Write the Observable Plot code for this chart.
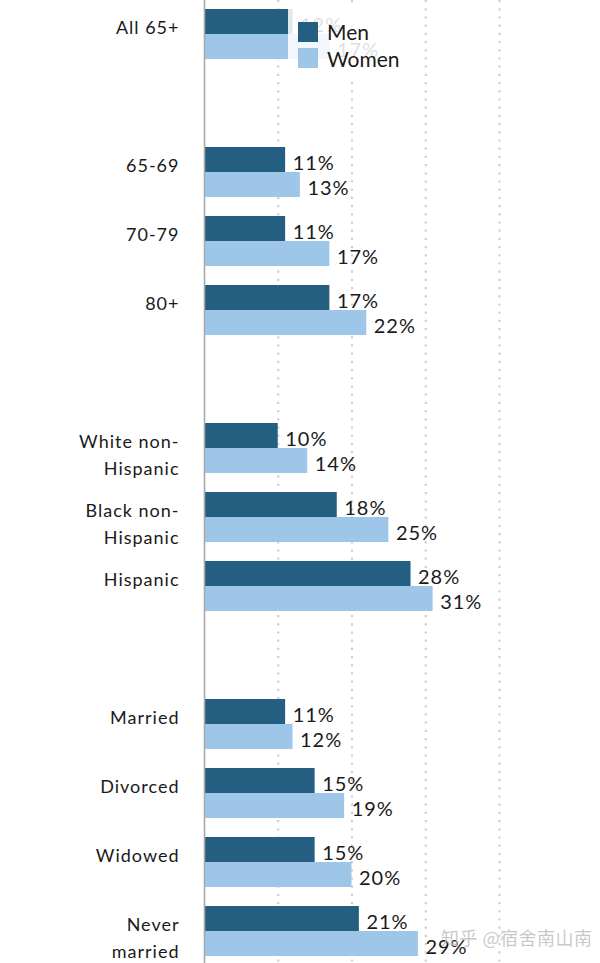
<!DOCTYPE html>
<html>
<head>
<meta charset="utf-8">
<script src="https://cdn.jsdelivr.net/npm/d3@7"></script>
<script src="https://cdn.jsdelivr.net/npm/@observablehq/plot@0.6"></script>
<style>
  html, body { margin: 0; padding: 0; background: #fff; }
  #wrap { position: relative; width: 600px; height: 963px; font-family: Lato, "Open Sans", sans-serif; }
  #chart svg text { letter-spacing: 1px; }
  #legend { position: absolute; left: 288px; top: 8px; width: 132px; height: 70px; background: rgba(255,255,255,0.86); }
  .sw { position: absolute; left: 10px; width: 20px; height: 20px; }
  .lt { position: absolute; left: 39px; font-size: 21px; color: #1a1a1a; line-height: 1; }
  #wm { position: absolute; left: 441px; top: 924px; font-family: "Noto Sans CJK SC", sans-serif; font-size: 18px; color: rgba(190,190,190,0.85); letter-spacing: 0.5px; }
</style>
</head>
<body>
<div id="wrap">
  <div id="chart"></div>
  <div id="legend"></div>
  <div id="wm">知乎 @宿舍南山南</div>
</div>
<script>
const categories = ["All 65+", "65-69", "70-79", "80+", "White non-\nHispanic", "Black non-\nHispanic", "Hispanic", "Married", "Divorced", "Widowed", "Never\nmarried"];
const men   = [12, 11, 11, 17, 10, 18, 28, 11, 15, 15, 21];
const women = [17, 13, 17, 22, 14, 25, 31, 12, 19, 20, 29];
const seriesNames = ["Men", "Women"];
const seriesColors = ["#245f81", "#9dc6e9"];
const xTicks = [10, 20, 30, 40];
const groupEnds = [0, 3, 6]; // a blank slot follows these category indices

const rows = categories.map((c, i) => ({cat: c, men: men[i], women: women[i]}));
const yDomain = [];
categories.forEach((c, i) => { yDomain.push(c); if (groupEnds.includes(i)) yDomain.push("gap" + i); });

const chart = Plot.plot({
  width: 600,
  height: 963,
  marginLeft: 204,
  marginRight: 101,
  marginTop: 9,
  marginBottom: 7,
  x: {domain: [0, 40], axis: null},
  y: {type: "band", domain: yDomain, paddingInner: 0.2754, paddingOuter: 0, axis: null},
  style: {fontFamily: "Lato, 'Open Sans', sans-serif", color: "#1a1a1a", background: "#fff"},
  marks: [
    Plot.ruleX(xTicks, {stroke: "#cfcfcf", strokeWidth: 2.2, strokeDasharray: "2.2,6", insetTop: -9, insetBottom: -7}),
    Plot.barX(rows, {x: "men", y: "cat", fill: seriesColors[0], insetBottom: 25}),
    Plot.barX(rows, {x: "women", y: "cat", fill: seriesColors[1], insetTop: 25}),
    Plot.ruleX([0], {stroke: "#a8a8a8", strokeWidth: 1.6, insetTop: -9, insetBottom: -7}),
    Plot.text(rows, {x: "men", y: "cat", text: d => d.men + "%", textAnchor: "start", dx: 7, dy: -9, fontSize: 20, fill: "#1a1a1a"}),
    Plot.text(rows, {x: "women", y: "cat", text: d => d.women + "%", textAnchor: "start", dx: 7, dy: 16, fontSize: 20, fill: "#1a1a1a"}),
    Plot.text(rows, {y: "cat", text: "cat", frameAnchor: "left", textAnchor: "end", dx: -25, dy: -20, lineAnchor: "top", lineHeight: 1.5, fontSize: 18, fill: "#1a1a1a"})
  ]
});
document.getElementById("chart").appendChild(chart);

const legend = document.getElementById("legend");
seriesNames.forEach((name, i) => {
  const sw = document.createElement("div");
  sw.className = "sw";
  sw.style.top = (14 + i * 26) + "px";
  sw.style.background = seriesColors[i];
  legend.appendChild(sw);
  const t = document.createElement("div");
  t.className = "lt";
  t.style.top = (13 + i * 27) + "px";
  t.textContent = name;
  legend.appendChild(t);
});
</script>
</body>
</html>
